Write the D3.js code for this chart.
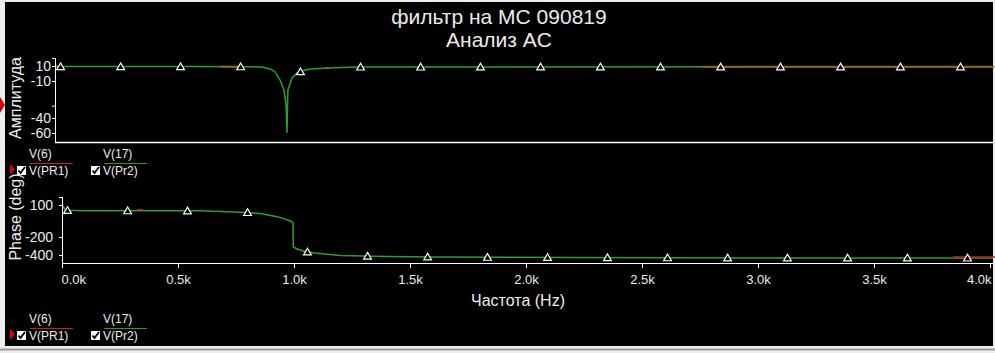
<!DOCTYPE html>
<html>
<head>
<meta charset="utf-8">
<script src="https://cdn.jsdelivr.net/npm/d3@7"></script>
<style>
  body { margin: 0; background: #eeeeee; }
  svg { display: block; }
  text { font-family: "Liberation Sans", Arial, sans-serif; fill: #ececec; }
</style>
</head>
<body>
<div id="chart"></div>
<script>
// titles
const titleLines = ["фильтр на MC 090819", "Анализ AC"];

// amplitude trace, V(Pr2)
const ampFreq = [0, 600, 850, 897, 927, 948, 970, 987, 996, 1000, 1004, 1022, 1043, 1065, 1099, 1172, 1300, 4050];
const ampVal  = [9.3, 9.3, 9, 8.3, 6, 2.4, -8.7, -17.3, -29.5, -60, -17.3, -6, 0.7, 3.3, 6, 7.3, 8.7, 9];

// phase trace, V(Pr2)
const phaseFreq = [0, 15, 100, 600, 711, 800, 860, 927, 960, 991, 996, 997, 1010, 1047, 1090, 1134, 1200, 1400, 1600, 2200, 3000, 4050];
const phaseVal  = [105, 50, 47, 45, 37, 30, 18, -10, -30, -57, -70, -310, -330, -361, -378, -389, -405, -416, -422, -428, -432, -433];

// where the V(PR1) trace shows over V(Pr2)
const pr1AmpRanges = [[0, 20], [710, 800], [1165, 1185], [2790, 4050]];
const pr1PhaseRanges = [[323, 349], [3840, 4050]];

// cursor markers
const markerFreq = [24, 283, 541, 800, 1058, 1317, 1576, 1834, 2093, 2351, 2610, 2869, 3127, 3386, 3644, 3903];

// axes
const ampTicks = [10, -10, -40, -60];
const phaseTicks = [100, -200, -400];
const freqTicks = [0, 500, 1000, 1500, 2000, 2500, 3000, 3500, 4000];
const freqLabels = ["0.0k", "0.5k", "1.0k", "1.5k", "2.0k", "2.5k", "3.0k", "3.5k", "4.0k"];

// legend
const legendTop = ["V(6)", "V(17)"];
const legendBottom = ["V(PR1)", "V(Pr2)"];
const legendColors = ["#c81e1e", "#2e9a2e"];

const W = 995, H = 353;
const green = "#2e9e2e", brown = "#8e6519", red = "#c82020";

const svg = d3.select("#chart").append("svg")
  .attr("width", W).attr("height", H);

// window frame
svg.append("rect").attr("x", 5).attr("y", 2).attr("width", 988).attr("height", 344).attr("fill", "#000");
svg.append("line").attr("x1", 0).attr("x2", W).attr("y1", 349.5).attr("y2", 349.5)
  .attr("stroke", "#9a9a9a").attr("stroke-width", 2);
svg.append("path").attr("d", "M0,97 L5,105 L0,113 Z").attr("fill", "#e00000");

// titles
svg.selectAll("text.title").data(titleLines).enter().append("text")
  .attr("class", "title")
  .attr("x", 499).attr("y", (d, i) => 24 + i * 23)
  .attr("text-anchor", "middle")
  .style("font-size", "21px")
  .text(d => d);

// scales
const xTop = d3.scaleLinear().domain([0, 4000]).range([55, 983]);
const xBot = d3.scaleLinear().domain([0, 4000]).range([62, 990]);
const yAmp = d3.scaleLinear().domain([10, -10, -40, -60]).range([66, 81, 118, 133]);
const yPhase = d3.scaleLinear().domain([100, -200, -400]).range([205, 237, 255]);

const defs = svg.append("defs");
defs.append("clipPath").attr("id", "clipTop")
  .append("rect").attr("x", 55).attr("y", 50).attr("width", 938).attr("height", 92);
defs.append("clipPath").attr("id", "clipBot")
  .append("rect").attr("x", 62).attr("y", 190).attr("width", 931).attr("height", 73);

function rangeClip(id, ranges, x, y0, h) {
  const cp = defs.append("clipPath").attr("id", id);
  cp.selectAll("rect").data(ranges).enter().append("rect")
    .attr("x", d => x(d[0])).attr("width", d => x(d[1]) - x(d[0]))
    .attr("y", y0).attr("height", h);
}
rangeClip("pr1Top", pr1AmpRanges, xTop, 50, 92);
rangeClip("pr1Bot", pr1PhaseRanges, xBot, 190, 73);

// ---- amplitude panel ----
const ampData = ampFreq.map((f, i) => [f, ampVal[i]]);
const ampLine = d3.line().x(d => xTop(d[0])).y(d => yAmp(d[1]));

const gTop = svg.append("g").attr("clip-path", "url(#clipTop)");
gTop.append("path").datum(ampData).attr("d", ampLine)
  .attr("fill", "none").attr("stroke", green).attr("stroke-width", 1.5);
svg.append("g").attr("clip-path", "url(#pr1Top)")
  .append("path").datum(ampData).attr("d", ampLine)
  .attr("fill", "none").attr("stroke", brown).attr("stroke-width", 2);

// y axis
const ampAxis = svg.append("g");
ampAxis.append("line").attr("x1", 55.5).attr("x2", 55.5).attr("y1", 58).attr("y2", 142)
  .attr("stroke", "#fff");
ampAxis.selectAll("line.tk").data([10, -10, -30, -40, -60]).enter().append("line")
  .attr("class", "tk")
  .attr("x1", 52).attr("x2", 55).attr("y1", d => yAmp(d) + 0.5).attr("y2", d => yAmp(d) + 0.5)
  .attr("stroke", "#fff");
ampAxis.append("line").attr("x1", 52).attr("x2", 55).attr("y1", 58.5).attr("y2", 58.5).attr("stroke", "#fff");
ampAxis.selectAll("text").data(ampTicks).enter().append("text")
  .attr("x", 51).attr("y", d => yAmp(d)).attr("dy", "0.36em")
  .attr("text-anchor", "end").style("font-size", "14px")
  .text(d => d);
svg.append("line").attr("x1", 55).attr("x2", 993).attr("y1", 142.5).attr("y2", 142.5)
  .attr("stroke", "#fff").attr("stroke-width", 1.5);
svg.append("text")
  .attr("transform", "translate(21,98) rotate(-90)")
  .attr("text-anchor", "middle").style("font-size", "16px")
  .text("Амплитуда");

// ---- phase panel ----
const phaseData = phaseFreq.map((f, i) => [f, phaseVal[i]]);
const phaseLine = d3.line().x(d => xBot(d[0])).y(d => yPhase(d[1]));

const gBot = svg.append("g").attr("clip-path", "url(#clipBot)");
gBot.append("path").datum(phaseData).attr("d", phaseLine)
  .attr("fill", "none").attr("stroke", green).attr("stroke-width", 1.5);
svg.append("g").attr("clip-path", "url(#pr1Bot)")
  .append("path").datum(phaseData).attr("d", phaseLine)
  .attr("fill", "none").attr("stroke", red).attr("stroke-width", 1.5)
  .attr("transform", "translate(0,-1)");

const phaseAxis = svg.append("g");
phaseAxis.append("line").attr("x1", 62.5).attr("x2", 62.5).attr("y1", 197).attr("y2", 263)
  .attr("stroke", "#fff");
phaseAxis.selectAll("line.tk").data(phaseTicks).enter().append("line")
  .attr("class", "tk")
  .attr("x1", 59).attr("x2", 62).attr("y1", d => yPhase(d) + 0.5).attr("y2", d => yPhase(d) + 0.5)
  .attr("stroke", "#fff");
phaseAxis.append("line").attr("x1", 59).attr("x2", 62).attr("y1", 197.5).attr("y2", 197.5).attr("stroke", "#fff");
phaseAxis.selectAll("text").data(phaseTicks).enter().append("text")
  .attr("x", 53).attr("y", d => yPhase(d)).attr("dy", "0.36em")
  .attr("text-anchor", "end").style("font-size", "14px")
  .text(d => d);
svg.append("text")
  .attr("transform", "translate(21,217) rotate(-90)")
  .attr("text-anchor", "middle").style("font-size", "16px")
  .text("Phase (deg)");

// frequency axis
const xAxis = d3.axisBottom(xBot).tickValues(freqTicks)
  .tickFormat((d, i) => freqLabels[i]).tickSize(5).tickSizeOuter(0).tickPadding(7);
const gx = svg.append("g").attr("transform", "translate(0,263)").call(xAxis);
gx.select(".domain").attr("stroke", "#fff").attr("d", "M62,0.5H993");
gx.selectAll(".tick line").attr("stroke", "#fff");
gx.selectAll(".tick text").style("font-size", "13px").attr("fill", "#ececec")
  .attr("text-anchor", (d, i) => i === 0 ? "start" : i === freqTicks.length - 1 ? "end" : "middle")
  .attr("dx", (d, i) => i === 0 ? "-1" : i === freqTicks.length - 1 ? "1" : "0");
svg.append("text")
  .attr("x", 518).attr("y", 306)
  .attr("text-anchor", "middle").style("font-size", "16px")
  .text("Частота (Hz)");

// markers
const tri = d3.symbol().type(d3.symbolTriangle).size(26);
const ampAt = f => d3.scaleLinear().domain(ampFreq).range(ampVal)(f);
const phaseAt = f => d3.scaleLinear().domain(phaseFreq).range(phaseVal)(f);
svg.append("g").selectAll("path").data(markerFreq).enter().append("path")
  .attr("d", tri)
  .attr("transform", d => `translate(${xTop(d)},${yAmp(ampAt(d)) + 0.8})`)
  .attr("fill", "#000").attr("stroke", "#fff").attr("stroke-width", 1.2);
svg.append("g").selectAll("path").data(markerFreq).enter().append("path")
  .attr("d", tri)
  .attr("transform", d => `translate(${xBot(d)},${yPhase(phaseAt(d)) + 0.8})`)
  .attr("fill", "#000").attr("stroke", "#fff").attr("stroke-width", 1.2);

// legends
function legend(y) {
  const g = svg.append("g").attr("transform", `translate(0,${y})`);
  g.append("path").attr("d", "M10,-6 L15,-1 L10,5 Z").attr("fill", "#e00000");
  const items = g.selectAll("g.item").data(legendTop).enter().append("g")
    .attr("class", "item")
    .attr("transform", (d, i) => `translate(${17 + i * 74},0)`);
  items.append("rect").attr("x", 0).attr("y", -4).attr("width", 9).attr("height", 9).attr("fill", "#fff");
  items.append("path").attr("d", "M1.5,0.5 L3.5,3 L8,-3")
    .attr("fill", "none").attr("stroke", "#000").attr("stroke-width", 1.8);
  items.append("text").attr("x", 12).attr("y", -12).style("font-size", "12px").text(d => d);
  items.append("line").attr("x1", 13).attr("x2", 56).attr("y1", -6.5).attr("y2", -6.5)
    .attr("stroke", (d, i) => legendColors[i]).attr("stroke-width", 1.2);
  items.append("text").attr("x", 12).attr("y", 5).style("font-size", "12px")
    .text((d, i) => legendBottom[i]);
}
legend(170);
legend(335);
</script>
</body>
</html>
